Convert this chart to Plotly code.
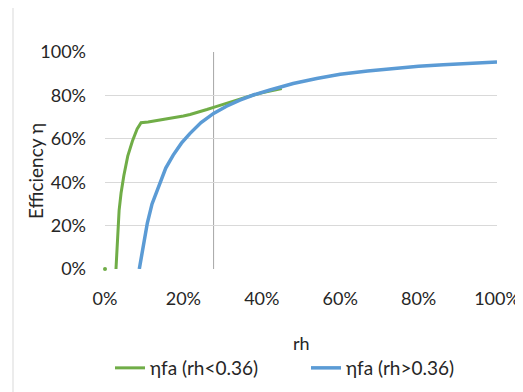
import plotly.graph_objects as go

# Data
green_rh = [0.028, 0.032, 0.036, 0.041, 0.048, 0.058, 0.070, 0.082, 0.092, 0.110, 0.130,
            0.150, 0.174, 0.200, 0.217, 0.240, 0.260, 0.277, 0.300, 0.330, 0.360, 0.400, 0.451]
green_eta = [0.0, 0.15, 0.27, 0.35, 0.43, 0.52, 0.59, 0.645, 0.674, 0.677, 0.683,
             0.688, 0.694, 0.705, 0.712, 0.723, 0.735, 0.745, 0.757, 0.775, 0.792, 0.812, 0.832]

blue_rh = [0.0875, 0.095, 0.102, 0.108, 0.120, 0.140, 0.155, 0.174, 0.195, 0.217, 0.245,
           0.277, 0.310, 0.344, 0.380, 0.421, 0.48, 0.54, 0.60, 0.67, 0.735, 0.80, 0.863, 0.93, 1.0]
blue_eta = [0.0, 0.08, 0.15, 0.212, 0.30, 0.394, 0.465, 0.525, 0.58, 0.625, 0.675,
            0.717, 0.750, 0.778, 0.803, 0.825, 0.855, 0.878, 0.897, 0.912, 0.925, 0.934, 0.941, 0.948, 0.954]

green_start_rh = [0.0]
green_start_eta = [0.0]

marker_rh = 0.277

tick_vals = [0, 0.2, 0.4, 0.6, 0.8, 1.0]
tick_text = ["0%", "20%", "40%", "60%", "80%", "100%"]

GREEN = "#70AD47"
BLUE = "#5B9BD5"
FONT = "Lato"
TXT = "#262626"
FS = 18

# screen-pixel geometry of the plot area (page has an 8px body margin)
PL, PR, PT, PB = 105, 497, 52, 269
OFF = 8
W, H = 523, 392
PW, PH = PR - PL, PB - PT

def px_x(sx):
    return (sx - PL) / PW

def px_y(sy):
    return (PB - sy) / PH

fig = go.Figure()
fig.add_trace(go.Scatter(x=green_start_rh, y=green_start_eta, mode="markers",
                         marker=dict(color=GREEN, size=4), showlegend=False, hoverinfo="skip",
                         cliponaxis=False))
fig.add_trace(go.Scatter(x=green_rh, y=green_eta, mode="lines", name="ηfa (rh<0.36)",
                         line=dict(color=GREEN, width=3)))
fig.add_trace(go.Scatter(x=blue_rh, y=blue_eta, mode="lines", name="ηfa (rh>0.36)",
                         line=dict(color=BLUE, width=3.5)))

fig.add_shape(type="line", xref="x", yref="y", x0=marker_rh, x1=marker_rh, y0=0, y1=1,
              line=dict(color="#a6a6a6", width=1), layer="below")

# chart border (top and left visible)
bx = px_x(13)
by = px_y(5)
fig.add_shape(type="line", xref="paper", yref="paper", x0=bx, x1=bx, y0=-2, y1=by,
              line=dict(color="#d9d9d9", width=1))
fig.add_shape(type="line", xref="paper", yref="paper", x0=bx, x1=2, y0=by, y1=by,
              line=dict(color="#d9d9d9", width=1))

fig.update_layout(
    width=W, height=H,
    margin=dict(l=PL - OFF, r=W - (PR - OFF), t=PT - OFF, b=H - (PB - OFF), autoexpand=False),
    paper_bgcolor="white", plot_bgcolor="white",
    font=dict(family=FONT, size=FS, color=TXT),
    showlegend=True,
    legend=dict(orientation="h", x=px_x(110), xanchor="left", y=px_y(368), yanchor="middle",
                font=dict(size=19, color=TXT), entrywidth=151, entrywidthmode="pixels",
                tracegroupgap=0, bgcolor="rgba(0,0,0,0)"),
    xaxis=dict(range=[0, 1], tickvals=tick_vals, ticktext=tick_text, showgrid=False,
               zeroline=False, showline=False, ticks="", ticklabelstandoff=17,
               tickfont=dict(size=FS, color=TXT), fixedrange=True, automargin=False),
    yaxis=dict(range=[0, 1], tickvals=tick_vals, ticktext=tick_text, showgrid=True,
               gridcolor="#d9d9d9", gridwidth=1, zeroline=False, showline=False, ticks="",
               ticklabelstandoff=18, tickfont=dict(size=FS, color=TXT), fixedrange=True,
               automargin=False),
    annotations=[
        dict(text="rh", xref="paper", yref="paper", x=0.5, y=px_y(343),
             showarrow=False, font=dict(size=FS, color=TXT), xanchor="center", yanchor="middle"),
        dict(text="Efficiency η", xref="paper", yref="paper", x=px_x(35), y=px_y(171),
             showarrow=False, textangle=-90, font=dict(size=19, color=TXT),
             xanchor="center", yanchor="middle"),
    ],
)

fig.write_html("out.html")
